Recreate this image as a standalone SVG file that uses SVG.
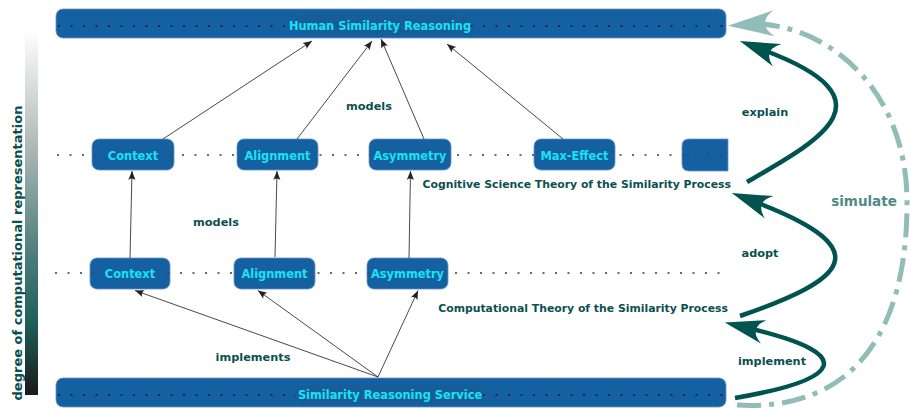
<svg xmlns="http://www.w3.org/2000/svg" width="910" height="409" viewBox="0 0 910 409">
<defs>
<linearGradient id="degGrad" x1="0" y1="0" x2="0" y2="1">
<stop offset="0" stop-color="#ffffff"/>
<stop offset="0.3" stop-color="#b4bcbc"/>
<stop offset="0.6" stop-color="#4f807d"/>
<stop offset="0.8" stop-color="#1f5f5a"/>
<stop offset="1" stop-color="#1a1a1a"/>
</linearGradient>
<marker id="thin" viewBox="-10 -5 11 10" markerWidth="11" markerHeight="10" refX="0" refY="0" orient="auto" markerUnits="userSpaceOnUse">
<path d="M0,0 L-9,-3.6 Q-6,0 -9,3.6 Z" fill="#222"/>
</marker>
<marker id="big" viewBox="-42 -14 44 28" markerWidth="44" markerHeight="28" refX="-28" refY="0" orient="auto" markerUnits="userSpaceOnUse">
<path d="M0,0 L-40,-12 Q-24,0 -40,12 Z" fill="#005450"/>
</marker>
<marker id="sim" viewBox="-48 -15 50 30" markerWidth="50" markerHeight="30" refX="-32" refY="0" orient="177" markerUnits="userSpaceOnUse">
<path d="M0,0 L-46,-13 Q-28,0 -46,13 Z" fill="#92bcb8"/>
</marker>
</defs>
<style>
.node{fill:#1560a0;stroke:#6a93c3;stroke-width:0.8}
.tbg{fill:#1560a0}
.bbg{fill:#175d9a}
.nt{font-family:"DejaVu Sans",sans-serif;font-weight:bold;font-size:11.4px;fill:#19e3f2;text-anchor:middle}
.lbl{font-family:"DejaVu Sans",sans-serif;font-weight:bold;font-size:11.3px;fill:#0b5050;text-anchor:middle}
.th{font-family:"DejaVu Sans",sans-serif;font-weight:bold;font-size:10.85px;fill:#0b5050;text-anchor:end}
.dotrow{stroke:#444;stroke-opacity:0.8;stroke-width:2;stroke-dasharray:2 10.5;fill:none}
.dotbar{stroke:#0c2a48;stroke-width:2;stroke-dasharray:2 10.5;fill:none}
.thin{stroke:#333;stroke-width:0.9;fill:none;marker-end:url(#thin)}
.thick{stroke:#005450;stroke-width:4.5;fill:none;marker-end:url(#big)}
</style>

<g id="scale">
<rect x="25" y="30" width="13" height="365" fill="url(#degGrad)"/>
<text transform="translate(21.5,253) rotate(-90)" style="font-family:'DejaVu Sans',sans-serif;font-weight:bold;font-size:13px;fill:#0b5050;text-anchor:middle">degree of computational representation</text>
</g>

<g id="human">
<rect x="56" y="9" width="670" height="29" rx="7" class="node" stroke="none"/>
<line x1="58" y1="26" x2="726" y2="26" class="dotbar"/>
<rect x="293" y="15" width="173" height="19" rx="8" class="bbg"/>
<text x="380" y="29.5" class="nt">Human Similarity Reasoning</text>
</g>

<g id="service">
<rect x="56" y="378" width="670" height="29" rx="7" class="node" stroke="none"/>
<line x1="58" y1="395" x2="726" y2="395" class="dotbar"/>
<rect x="296" y="385" width="187" height="19" rx="8" class="bbg"/>
<text x="390" y="399" class="nt">Similarity Reasoning Service</text>
</g>

<g id="row1">
<rect id="ctx1" x="92" y="139" width="82" height="31" rx="7" class="node"/>
<rect id="aln1" x="237" y="139" width="81" height="31" rx="7" class="node"/>
<rect id="asy1" x="369" y="139" width="82" height="31" rx="7" class="node"/>
<rect id="max1" x="534" y="139" width="81" height="31" rx="7" class="node"/>
<path id="part1" d="M728,139 L689,139 Q682,139 682,146 L682,164 Q682,171 689,171 L728,171 Z" class="node"/>
<line x1="57" y1="155" x2="728" y2="155" class="dotrow"/>
<rect x="106" y="147" width="54" height="16" class="tbg"/>
<rect x="246" y="147" width="63" height="16" class="tbg"/>
<rect x="377" y="147" width="66" height="16" class="tbg"/>
<rect x="541" y="147" width="67" height="16" class="tbg"/>
<text x="133" y="159.5" class="nt">Context</text>
<text x="277.5" y="159.5" class="nt">Alignment</text>
<text x="410" y="159.5" class="nt">Asymmetry</text>
<text x="574.5" y="159.5" class="nt">Max-Effect</text>
<text x="731" y="187.5" class="th">Cognitive Science Theory of the Similarity Process</text>
</g>

<g id="row2">
<rect id="ctx2" x="90" y="258" width="80" height="31" rx="7" class="node"/>
<rect id="aln2" x="234" y="258" width="81" height="31" rx="7" class="node"/>
<rect id="asy2" x="367" y="258" width="81" height="31" rx="7" class="node"/>
<line x1="55" y1="273" x2="726" y2="273" class="dotrow"/>
<rect x="103" y="265" width="54" height="16" class="tbg"/>
<rect x="243" y="265" width="63" height="16" class="tbg"/>
<rect x="375" y="265" width="65" height="16" class="tbg"/>
<text x="130" y="278" class="nt">Context</text>
<text x="274.5" y="278" class="nt">Alignment</text>
<text x="407.5" y="278" class="nt">Asymmetry</text>
<text x="728" y="311.5" class="th">Computational Theory of the Similarity Process</text>
</g>

<g id="connectors">
<line x1="163" y1="139" x2="312" y2="41" class="thin"/>
<line x1="297" y1="139" x2="372" y2="41" class="thin"/>
<line x1="424" y1="139" x2="381" y2="39" class="thin"/>
<line x1="563" y1="139" x2="447" y2="44" class="thin"/>
<line x1="130" y1="258" x2="132" y2="171" class="thin"/>
<line x1="275" y1="257" x2="277" y2="171" class="thin"/>
<line x1="409" y1="258" x2="410.5" y2="171" class="thin"/>
<line x1="378" y1="377" x2="135" y2="290.5" class="thin"/>
<line x1="378" y1="377" x2="258" y2="290.5" class="thin"/>
<line x1="378" y1="377" x2="418" y2="290.5" class="thin"/>
<path d="M747,182 C820,140 895,100 766,51" class="thick"/>
<path d="M740,316 C845,280 880,250 758,203" class="thick"/>
<path d="M735,398 C840,380 860,355 752,329" class="thick"/>
<path d="M737,405 C855,412 908,330 907,200 C906,90 830,28 760,24" fill="none" stroke="#92bcb8" stroke-width="5" stroke-dasharray="24 8 5 8" marker-end="url(#sim)"/>
<text x="369" y="110" class="lbl">models</text>
<text x="216" y="226" class="lbl">models</text>
<text x="253" y="361" class="lbl">implements</text>
<text x="765" y="116" class="lbl">explain</text>
<text x="760" y="257" class="lbl">adopt</text>
<text x="772" y="365" class="lbl">implement</text>
<text x="864" y="206" style="font-family:'DejaVu Sans',sans-serif;font-weight:bold;font-size:13.5px;fill:#4f8a86;text-anchor:middle">simulate</text>
</g>
</svg>
